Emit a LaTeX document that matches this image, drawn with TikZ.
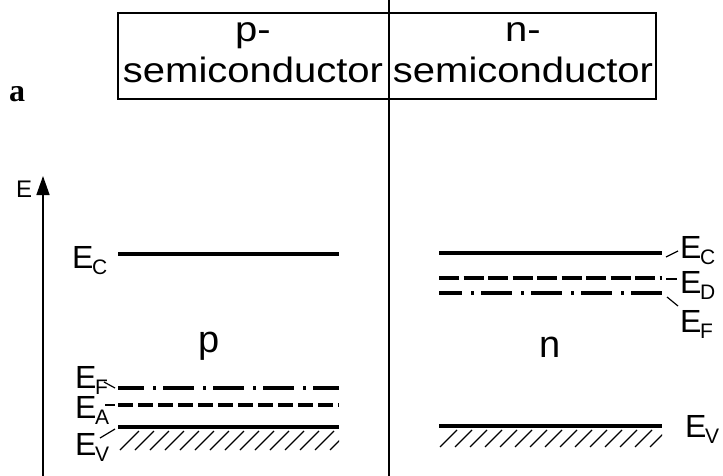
\documentclass[tikz,border=0pt]{standalone}
\usepackage{fontspec}
\setmainfont{Liberation Sans}
\newfontfamily\serifbold{Liberation Serif}
\usetikzlibrary{arrows.meta}
\newcommand{\lv}[1]{{\fontsize{32}{32}\selectfont E}\kern-1.5pt\raisebox{-6pt}{\fontsize{21}{21}\selectfont #1}}
\newcommand{\ttl}[1]{\scalebox{1}[0.88]{#1}}
\begin{document}
\begin{tikzpicture}[x=1pt,y=-1pt,
  level/.style={line width=4.5pt},
  thinline/.style={line width=1.5pt},
  leader/.style={line width=1.2pt},
  hatchline/.style={line width=1.3pt},
  lbl/.style={anchor=base west, inner sep=0pt},
  ttext/.style={anchor=base, inner sep=0pt, font=\fontsize{40}{40}\selectfont},
  dashdot/.style={level, dash pattern=on 31pt off 9pt on 3pt off 7pt, dash phase=5pt},
  dashA/.style={level, dash pattern=on 15pt off 5pt},
  dashD/.style={level, dash pattern=on 20pt off 4.5pt}]
\useasboundingbox (0,0) rectangle (723,476);
\fill[white] (0,0) rectangle (723,476);

% header box
\node (box) [draw, line width=1.8pt, minimum width=538pt, minimum height=86pt,
  inner sep=0pt, anchor=north west] at (117,12) {};
\coordinate (dtop) at (389,0);
\coordinate (dbot) at (389,476);
\draw[thinline] (dtop) -- (dbot);
\node[ttext] (ptop) at (253,42) {\ttl{p-}};
\node[ttext] (pbot) at (253,83) {\ttl{semiconductor}};
\node[ttext] (ntop) at (523,42) {\ttl{n-}};
\node[ttext] (nbot) at (523,83) {\ttl{semiconductor}};
\node[anchor=base west, inner sep=0pt, font=\serifbold\bfseries\fontsize{32}{32}\selectfont] (alabel) at (9,102) {a};

% energy axis
\coordinate (axb) at (43,476);
\coordinate (axt) at (43,176);
\draw[thinline, -{Triangle[length=19pt,width=13pt]}] (axb) -- (axt);
\node[lbl, font=\fontsize{24}{24}\selectfont] (Eax) at (16,197) {E};

% p-side levels
\coordinate (pCl) at (118,254); \coordinate (pCr) at (339,254);
\coordinate (pFl) at (118,388); \coordinate (pFr) at (339,388);
\coordinate (pAl) at (118,405); \coordinate (pAr) at (339,405);
\coordinate (pVl) at (118,427); \coordinate (pVr) at (339,427);
\draw[level] (pCl) -- (pCr);
\draw[dashdot] (pFl) -- (pFr);
\draw[dashA] (pAl) -- (pAr);
\draw[level] (pVl) -- (pVr);
\begin{scope}
  \clip (118,429) rectangle (339,452);
  \foreach \x in {120,135,...,330} \draw[hatchline] (\x,450) -- (\x+19,431);
\end{scope}
\node[anchor=base, inner sep=0pt, font=\fontsize{38}{38}\selectfont] (pletter) at (209,352) {p};

\node[lbl] (pEC) at (72,268) {\lv{C}};
\node[lbl] (pEF) at (75,388) {\lv{F}};
\node[lbl] (pEA) at (75,418) {\lv{A}};
\node[lbl] (pEV) at (75,455) {\lv{V}};
\coordinate (pFa) at (104,382); \coordinate (pFb) at (115,388);
\coordinate (pAa) at (105,405); \coordinate (pAb) at (115,405);
\coordinate (pVa) at (100,438); \coordinate (pVb) at (115,429);
\draw[leader] (pFa) -- (pFb);
\draw[leader] (pAa) -- (pAb);
\draw[leader] (pVa) -- (pVb);

% n-side levels
\coordinate (nCl) at (439,253); \coordinate (nCr) at (662,253);
\coordinate (nDl) at (439,278); \coordinate (nDr) at (662,278);
\coordinate (nFl) at (439,293); \coordinate (nFr) at (662,293);
\coordinate (nVl) at (439,426); \coordinate (nVr) at (662,426);
\draw[level] (nCl) -- (nCr);
\draw[dashD] (nDl) -- (nDr);
\draw[dashdot, dash phase=8pt] (nFl) -- (nFr);
\draw[level] (nVl) -- (nVr);
\begin{scope}
  \clip (439,428) rectangle (662,450);
  \foreach \x in {440,455,...,650} \draw[hatchline] (\x,447) -- (\x+17,430);
\end{scope}
\node[anchor=base, inner sep=0pt, font=\fontsize{38}{38}\selectfont] (nletter) at (550,357) {n};

\node[lbl] (nEC) at (680,258) {\lv{C}};
\node[lbl] (nED) at (680,293) {\lv{D}};
\node[lbl] (nEF) at (680,332) {\lv{F}};
\node[lbl] (nEV) at (685,437) {\lv{V}};
\coordinate (nCa) at (666,257); \coordinate (nCb) at (678,251);
\coordinate (nDa) at (666,279); \coordinate (nDb) at (677,279);
\coordinate (nFa) at (667,297); \coordinate (nFb) at (678,306);
\draw[leader] (nCa) -- (nCb);
\draw[leader] (nDa) -- (nDb);
\draw[leader] (nFa) -- (nFb);
\end{tikzpicture}
\end{document}
